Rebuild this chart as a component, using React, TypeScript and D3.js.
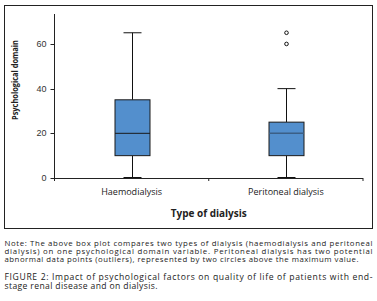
import React from "react";
import * as d3 from "d3";

const categories = ["Haemodialysis", "Peritoneal dialysis"];
const mins = [0, 0];
const q1s = [10, 10];
const medians = [20, 20];
const q3s = [35, 25];
const maxs = [65, 40];
const outliers: number[][] = [[], [60, 65]];
const yTicks = [0, 20, 40, 60];

const noteLines = [
  "Note: The above box plot compares two types of dialysis (haemodialysis and peritoneal",
  "dialysis) on one psychological domain variable. Peritoneal dialysis has two potential",
  "abnormal data points (outliers), represented by two circles above the maximum value.",
];
const noteWidths = [368, 368, 354];
const captionLines = [
  "FIGURE 2: Impact of psychological factors on quality of life of patients with end-",
  "stage renal disease and on dialysis.",
];
const captionWidths = [368, 153];

export default function App() {
  const W = 377;
  const H = 301;
  const x0 = 54.5;
  const x1 = 363;
  const yBase = 178;
  const yTop = 14;

  const x = d3.scaleBand<string>().domain(categories).range([x0, x1]).padding(0);
  const y = d3.scaleLinear().domain([0, 73.4]).range([yBase, yTop]);

  const boxW = 35;
  const capW = 18;
  const tickFont = "'Liberation Sans', Arial, sans-serif";
  const labelFont = "'Open Sans', sans-serif";

  return (
    <svg
      width={W}
      height={H}
      viewBox={`0 0 ${W} ${H}`}
      style={{ position: "absolute", left: 0, top: 0, background: "#fff" }}
    >
      <rect x={4.5} y={5.5} width={368} height={223} fill="#fff" stroke="#222" strokeWidth={1} />

      {/* y axis */}
      <line x1={x0} x2={x0} y1={yTop} y2={yBase + 3} stroke="#222" strokeWidth={1} />
      {yTicks.map((t) => (
        <g key={t}>
          <line x1={x0 - 4} x2={x0} y1={Math.round(y(t)) + 0.5} y2={Math.round(y(t)) + 0.5} stroke="#222" />
          <text
            x={x0 - 8}
            y={y(t)}
            dy="0.35em"
            textAnchor="end"
            fontFamily={tickFont}
            fontSize={9}
            fill="#333"
          >
            {t}
          </text>
        </g>
      ))}

      {/* x axis */}
      <line x1={x0} x2={x1} y1={yBase + 0.5} y2={yBase + 0.5} stroke="#222" strokeWidth={1} />
      {[x0, (x0 + x1) / 2, x1].map((px, i) => (
        <line key={i} x1={px} x2={px} y1={yBase} y2={yBase + 3} stroke="#222" />
      ))}
      {categories.map((c) => (
        <text
          key={c}
          x={(x(c) as number) + x.bandwidth() / 2}
          y={195}
          textAnchor="middle"
          fontFamily={labelFont}
          fontSize={9}
          fill="#222"
        >
          {c}
        </text>
      ))}

      {/* boxes */}
      {categories.map((c, i) => {
        const cx = Math.round((x(c) as number) + x.bandwidth() / 2) + 0.5;
        return (
          <g key={c}>
            <line x1={cx} x2={cx} y1={y(maxs[i])} y2={y(q3s[i])} stroke="#111" />
            <line x1={cx} x2={cx} y1={y(q1s[i])} y2={y(mins[i])} stroke="#111" />
            <line x1={cx - capW / 2} x2={cx + capW / 2} y1={y(maxs[i])} y2={y(maxs[i])} stroke="#111" />
            <line x1={cx - capW / 2} x2={cx + capW / 2} y1={y(mins[i]) - 0.5} y2={y(mins[i]) - 0.5} stroke="#111" />
            <rect
              x={cx - boxW / 2}
              y={y(q3s[i])}
              width={boxW}
              height={y(q1s[i]) - y(q3s[i])}
              fill="#538fcd"
              stroke="#1a1a1a"
              strokeWidth={1}
            />
            <line
              x1={cx - boxW / 2}
              x2={cx + boxW / 2}
              y1={y(medians[i])}
              y2={y(medians[i])}
              stroke={i === 0 ? "#1a1a1a" : "#3b5f86"}
              strokeWidth={i === 0 ? 1 : 1.5}
            />
            {outliers[i].map((o, k) => (
              <circle key={k} cx={cx} cy={y(o)} r={1.8} fill="#fff" stroke="#111" strokeWidth={1} />
            ))}
          </g>
        );
      })}

      {/* axis titles */}
      <text
        transform={`translate(17.5, 80) rotate(-90)`}
        textAnchor="middle"
        fontFamily={labelFont}
        fontWeight="bold"
        fontSize={9}
        textLength={80}
        lengthAdjust="spacingAndGlyphs"
        fill="#222"
      >
        Psychological domain
      </text>
      <text
        x={(x0 + x1) / 2}
        y={216.5}
        textAnchor="middle"
        fontFamily={labelFont}
        fontWeight="bold"
        fontSize={10.5}
        textLength={76}
        lengthAdjust="spacingAndGlyphs"
        fill="#222"
      >
        Type of dialysis
      </text>

      {/* note + caption */}
      {noteLines.map((l, i) => (
        <text
          key={`n${i}`}
          x={4.5}
          y={245.5 + i * 8.3}
          fontFamily={labelFont}
          fontSize={7.8}
          textLength={noteWidths[i]}
          lengthAdjust="spacing"
          fill="#222"
        >
          {l}
        </text>
      ))}
      {captionLines.map((l, i) => (
        <text
          key={`c${i}`}
          x={4.5}
          y={280 + i * 9}
          fontFamily={labelFont}
          fontSize={8.6}
          textLength={captionWidths[i]}
          lengthAdjust="spacing"
          fill="#222"
        >
          {l}
        </text>
      ))}
    </svg>
  );
}
